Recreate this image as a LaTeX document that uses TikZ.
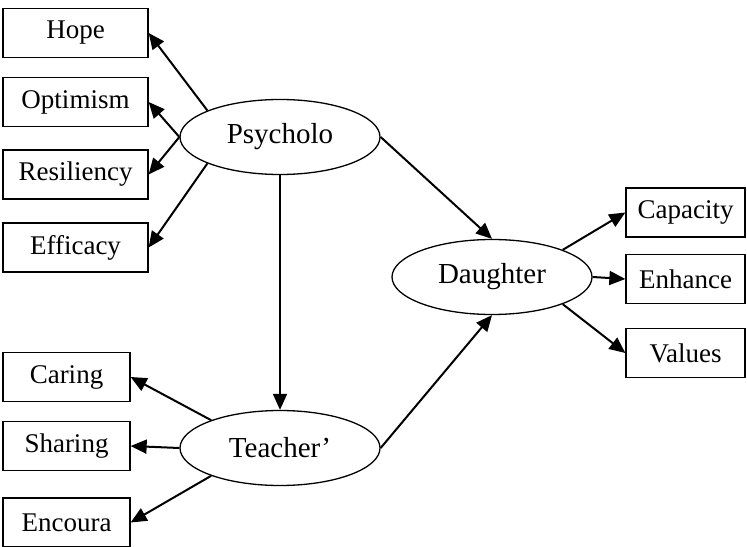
\documentclass[tikz,border=0pt]{standalone}
\usepackage{fontspec}
\setmainfont{Liberation Serif}
\usetikzlibrary{arrows.meta, shapes.geometric}

\begin{document}
\begin{tikzpicture}[x=0.5pt, y=0.5pt,
  ind/.style={draw, line width=0.65pt, minimum height=24.5pt, inner sep=2pt,
              font=\fontsize{13.5}{15}\selectfont},
  lat/.style={ellipse, draw, line width=0.65pt, minimum width=100pt,
              minimum height=37.5pt, inner sep=0pt, font=\fontsize{14.5}{16}\selectfont},
  path/.style={-{Triangle[length=8pt,width=7pt]}, line width=1pt}]
  \useasboundingbox (0,0) rectangle (747,546);
  % latent constructs
  \node[lat] (P) at (280,409) {Psycholo};
  \node[lat] (T) at (280,98)  {Teacher’};
  \node[lat] (D) at (492,269) {Daughter};
  % indicators of Psycholo
  \node[ind, minimum width=72.5pt] (hope) at (75.5,513)   {Hope};
  \node[ind, minimum width=72.5pt] (opti) at (75.5,444)   {Optimism};
  \node[ind, minimum width=72.5pt] (resi) at (75.5,371.5) {Resiliency};
  \node[ind, minimum width=72.5pt] (effi) at (75.5,298.5) {Efficacy};
  % indicators of Teacher'
  \node[ind, minimum width=63.5pt] (cari) at (66.5,169)  {Caring};
  \node[ind, minimum width=63.5pt] (shar) at (66.5,100)  {Sharing};
  \node[ind, minimum width=63.5pt] (enco) at (66.5,23.5) {Encoura};
  % indicators of Daughter
  \node[ind, minimum width=59.5pt] (capa) at (685.5,333.5) {Capacity};
  \node[ind, minimum width=59.5pt] (enha) at (685.5,267)   {Enhance};
  \node[ind, minimum width=59.5pt] (valu) at (685.5,193)   {Values};

  \draw[path] (P.160)  -- (hope.east);
  \draw[path] (P.west) -- (opti.east);
  \draw[path] (P.west) -- (resi.east);
  \draw[path] (P.200)  -- (effi.east);
  \draw[path] (T.158)  -- (cari.east);
  \draw[path] (T.west) -- (shar.east);
  \draw[path] (T.202)  -- (enco.east);
  \draw[path] (D.21)   -- (capa.west);
  \draw[path] (D.east) -- (enha.west);
  \draw[path] (D.-21)  -- (valu.west);
  \draw[path] (P.south) -- (T.north);
  \draw[path] (P.east)  -- (D.north);
  \draw[path] (T.east)  -- (D.south);
\end{tikzpicture}
\end{document}
